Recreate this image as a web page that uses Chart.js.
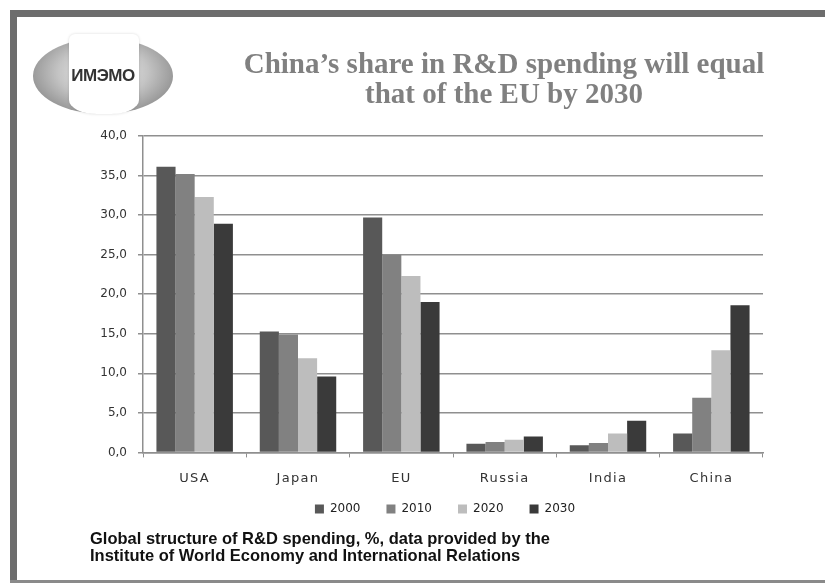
<!DOCTYPE html>
<html>
<head>
<meta charset="utf-8">
<script src="https://cdn.jsdelivr.net/npm/chart.js@4"></script>
<style>
  html, body { margin:0; padding:0; background:#fff; }
  #wrap { position:relative; width:825px; height:583px; overflow:hidden; background:#fff; }
  #frameTop { position:absolute; left:10px; top:10px; width:815px; height:7px; background:#6d6d6d; }
  #frameLeft { position:absolute; left:10px; top:10px; width:7px; height:573px; background:#6d6d6d; }
  #frameBottom { position:absolute; left:10px; top:580px; width:815px; height:3px; background:#8a8a8a; }
  #chart { position:absolute; left:0; top:0; }
  #title { position:absolute; left:154px; width:700px; top:48px; text-align:center;
           font-family:"Liberation Serif","Times New Roman",serif; font-weight:bold; font-size:29px;
           line-height:30px; color:#808080; white-space:nowrap; }
  #caption { position:absolute; left:90px; top:530px; font-family:"Liberation Sans",Arial,sans-serif;
             font-weight:bold; font-size:17px; line-height:17px; color:#111; white-space:nowrap;
             transform:scaleX(0.97); transform-origin:0 0; }
  #logo { position:absolute; left:33px; top:38px; width:140px; height:76px; }
  #logo .globe { position:absolute; left:0; top:0; width:140px; height:76px; border-radius:50%;
       background: radial-gradient(ellipse at 50% 45%, #f2f2f2 0%, #c4c4c4 45%, #8c8c8c 80%, #5e5e5e 100%); }
  #logo .book { position:absolute; left:36px; top:-4px; width:70px; height:80px; background:#fff;
       border-radius: 6px 6px 40% 40% / 6px 6px 14px 14px; box-shadow: 0 0 3px rgba(0,0,0,0.15); }
  #logo .txt { position:absolute; left:0; width:140px; top:28px; text-align:center;
       font-family:"Liberation Sans",Arial,sans-serif; font-weight:bold; font-size:17px; color:#333; letter-spacing:-0.5px; }
</style>
</head>
<body>
<div id="wrap">
  <div id="frameTop"></div>
  <div id="frameLeft"></div>
  <div id="frameBottom"></div>
  <canvas id="chart" width="825" height="583"></canvas>
  <div id="logo"><div class="globe"></div><div class="book"></div><div class="txt">ИМЭМО</div></div>
  <div id="title">China’s share in R&amp;D spending will equal<br>that of the EU by 2030</div>
  <div id="caption">Global structure of R&amp;D spending, %, data provided by the<br>Institute of World Economy and International Relations</div>
</div>
<script>
const categories = ["USA", "Japan", "EU", "Russia", "India", "China"];
const seriesNames = ["2000", "2010", "2020", "2030"];
const values2000 = [36.1, 15.3, 29.7, 1.1, 0.9, 2.4];
const values2010 = [35.2, 14.9, 25.0, 1.3, 1.2, 6.9];
const values2020 = [32.3, 11.9, 22.3, 1.6, 2.4, 12.9];
const values2030 = [28.9, 9.6, 19.0, 2.0, 4.0, 18.6];
const seriesColors = ["#585858", "#818181", "#bdbdbd", "#3a3a3a"];
const yTicks = [0, 5, 10, 15, 20, 25, 30, 35, 40];

const seriesValues = [values2000, values2010, values2020, values2030];

const spacingPlugin = {
  id: 'xLabelSpacing',
  afterLayout(chart) {
    const lg = chart.legend;
    if (lg) { lg.top -= 22; lg.bottom -= 22; lg.left -= 8; lg.right -= 8; }
  },
  afterDatasetsDraw(chart) { chart.ctx.letterSpacing = '1.3px'; },
  afterDraw(chart) { chart.ctx.letterSpacing = '0px'; }
};

new Chart(document.getElementById('chart'), {
  type: 'bar',
  data: {
    labels: categories,
    datasets: seriesNames.map((name, i) => ({
      label: name,
      data: seriesValues[i],
      backgroundColor: seriesColors[i],
      borderWidth: 0,
      barPercentage: 1.0,
      categoryPercentage: 0.74
    }))
  },
  options: {
    responsive: false,
    devicePixelRatio: 1,
    animation: false,
    layout: { padding: { left: 90, right: 62, top: 136, bottom: 36 } },
    plugins: {
      tooltip: { enabled: false },
      title: { display: false },
      legend: {
        position: 'bottom',
        fullSize: false,
        labels: {
          boxWidth: 9, boxHeight: 9, padding: 26,
          color: '#222',
          font: { family: '"DejaVu Sans", sans-serif', size: 12 }
        }
      }
    },
    scales: {
      x: {
        grid: { display: true, drawOnChartArea: false, offset: true, tickLength: 5, color: '#8f8f8f', lineWidth: 1 },
        border: { display: true, color: '#8f8f8f', width: 1.5 },
        ticks: { z: 1, padding: 13, color: '#333', font: { family: '"DejaVu Sans", sans-serif', size: 13 } }
      },
      y: {
        min: 0, max: 40,
        afterFit(scale) { scale.width = 53; },
        afterBuildTicks(scale) { scale.ticks = yTicks.map(v => ({ value: v })); },
        grid: { color: '#8f8f8f', lineWidth: 1.5, tickLength: 5 },
        border: { display: true, color: '#8f8f8f', width: 1.5 },
        ticks: {
          padding: 11, color: '#333',
          font: { family: '"DejaVu Sans", sans-serif', size: 12 },
          callback: (v) => Number(v).toFixed(1).replace('.', ',')
        }
      }
    }
  },
  plugins: [spacingPlugin]
});
</script>
</body>
</html>
